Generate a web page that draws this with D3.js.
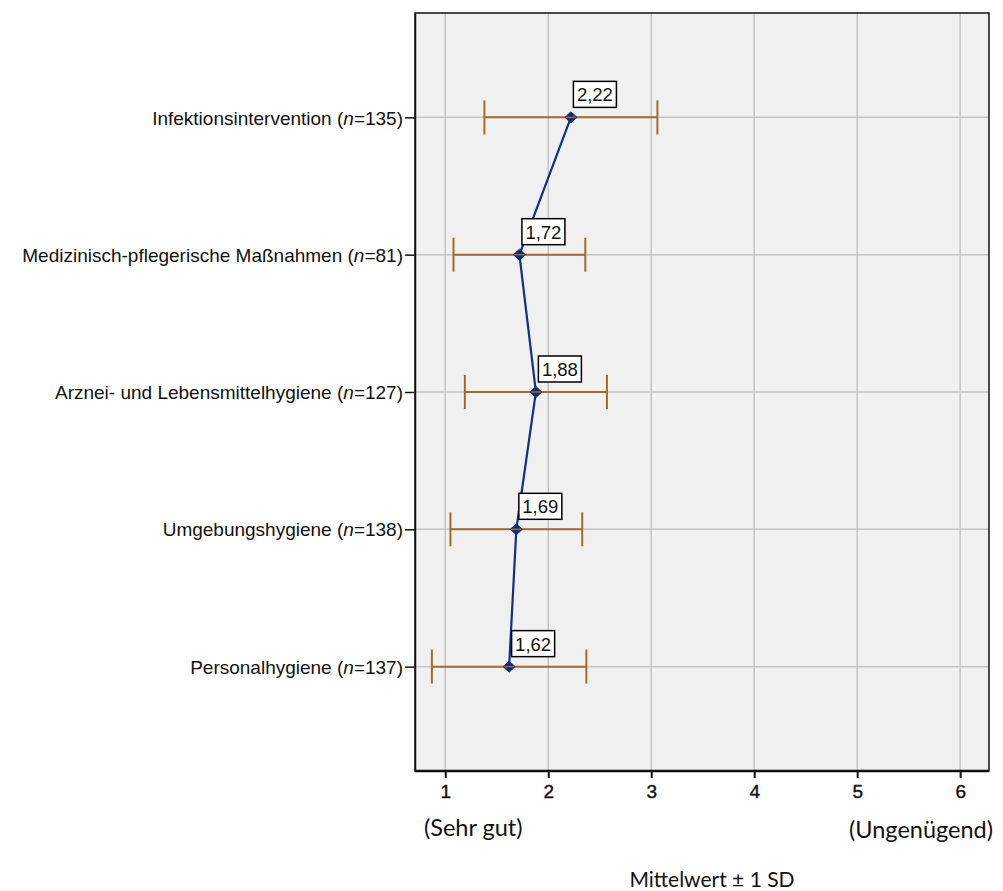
<!DOCTYPE html>
<html><head><meta charset="utf-8">
<script src="https://cdn.jsdelivr.net/npm/d3@7"></script>
<style>body{margin:0;background:#fff}</style>
</head><body>
<svg id="c" width="1003" height="891"></svg>
<script>
const categories = ["Infektionsintervention", "Medizinisch-pflegerische Maßnahmen", "Arznei- und Lebensmittelhygiene", "Umgebungshygiene", "Personalhygiene"];
const nValues = [135, 81, 127, 138, 137];
const means = [2.22, 1.72, 1.88, 1.69, 1.62];
const sds = [0.84, 0.64, 0.69, 0.64, 0.75];
const xTicks = [1, 2, 3, 4, 5, 6];
const anchorLabels = ["(Sehr gut)", "(Ungenügend)"];
const axisTitle = "Mittelwert ± 1 SD";

const svg = d3.select("#c");
const L = 415, R = 989, T = 13, B = 771;
const x = d3.scaleLinear().domain([0.706, 6.28]).range([L, R]);
const y = d3.scalePoint().domain(categories).range([T, B]).padding(0.76);
const data = categories.map((c, i) => ({c, n: nValues[i], m: means[i], sd: sds[i]}));
const fmt = v => d3.format(".2f")(v).replace(".", ",");
const ERR = "#a16b2d";

svg.append("rect").attr("x", L).attr("y", T).attr("width", R - L).attr("height", B - T).attr("fill", "#f0f0f0");
// grid
svg.append("g").selectAll("line").data(xTicks).join("line")
  .attr("x1", d => x(d)).attr("x2", d => x(d)).attr("y1", T).attr("y2", B)
  .attr("stroke", "#c4c4c4").attr("stroke-width", 1.5);
svg.append("g").selectAll("line").data(categories).join("line")
  .attr("x1", L).attr("x2", R).attr("y1", d => y(d)).attr("y2", d => y(d))
  .attr("stroke", "#c4c4c4").attr("stroke-width", 1.5);

// error bars
const eb = svg.append("g").attr("stroke", ERR).attr("stroke-width", 2).attr("fill", "none");
data.forEach(d => {
  const yy = y(d.c);
  eb.append("line").attr("x1", x(d.m - d.sd)).attr("x2", x(d.m + d.sd)).attr("y1", yy).attr("y2", yy);
  [d.m - d.sd, d.m + d.sd].forEach(v => eb.append("line").attr("x1", x(v)).attr("x2", x(v)).attr("y1", yy - 17).attr("y2", yy + 17));
});

// mean line
svg.append("path").datum(data)
  .attr("d", d3.line().x(d => x(d.m)).y(d => y(d.c)))
  .attr("fill", "none").attr("stroke", "#0e2f8c").attr("stroke-width", 2.2);

// markers
const mk = svg.append("g");
data.forEach(d => {
  const cx = x(d.m), cy = y(d.c);
  mk.append("path").attr("d", `M${cx - 6},${cy} L${cx},${cy - 5.5} L${cx + 6},${cy} L${cx},${cy + 5.5} Z`).attr("fill", "#152a73").attr("stroke", "#0e2f8c").attr("stroke-width", 1);
  mk.append("line").attr("x1", cx - 5).attr("x2", cx + 5).attr("y1", cy).attr("y2", cy).attr("stroke", ERR).attr("stroke-width", 1.5);
});

// value labels
const vl = svg.append("g");
data.forEach(d => {
  const cx = x(d.m), cy = y(d.c);
  vl.append("rect").attr("x", cx + 2.5).attr("y", cy - 36).attr("width", 43).attr("height", 26)
    .attr("fill", "#fff").attr("stroke", "#000").attr("stroke-width", 1.5);
  vl.append("text").attr("x", cx + 24).attr("y", cy - 16).attr("text-anchor", "middle")
    .attr("font-family", "Liberation Sans, Arial, sans-serif").attr("font-size", 18.5).attr("fill", "#111").text(fmt(d.m));
});

// border
svg.append("rect").attr("x", L).attr("y", T).attr("width", R - L).attr("height", B - T).attr("fill", "none").attr("stroke", "#111").attr("stroke-width", 1.5);

// y axis
const yAxis = svg.append("g").attr("transform", `translate(${L},0)`)
  .call(d3.axisLeft(y).tickSize(10).tickSizeOuter(0).tickFormat(""));
yAxis.select(".domain").attr("stroke", "#111").attr("stroke-width", 1.5);
yAxis.selectAll(".tick line").attr("stroke", "#111").attr("stroke-width", 1.5);
yAxis.selectAll(".tick").each(function(c, i) {
  const t = d3.select(this).append("text").attr("x", -12).attr("dy", "0.35em").attr("text-anchor", "end")
    .attr("fill", "#111").attr("font-family", "Liberation Sans, Arial, sans-serif").attr("font-size", 19);
  t.append("tspan").text(c + " (");
  t.append("tspan").attr("font-style", "italic").text("n");
  t.append("tspan").text("=" + nValues[i] + ")");
});

// x axis
const xAxis = svg.append("g").attr("transform", `translate(0,${B})`)
  .call(d3.axisBottom(x).tickValues(xTicks).tickSize(7).tickSizeOuter(0).tickPadding(7).tickFormat(d3.format("d")));
xAxis.select(".domain").attr("stroke", "#111").attr("stroke-width", 2.5).attr("d", `M${L},0H${R}`);
xAxis.selectAll(".tick line").attr("stroke", "#111").attr("stroke-width", 2);
xAxis.selectAll(".tick text").attr("fill", "#111").attr("font-family", "Liberation Sans, Arial, sans-serif").attr("font-size", 19).attr("stroke", "#111").attr("stroke-width", 0.4);

svg.append("text").attr("x", 424).attr("y", 836).attr("font-family", "Lato, sans-serif").attr("font-size", 23.5).attr("fill", "#111").text(anchorLabels[0]);
svg.append("text").attr("x", R + 4).attr("y", 838).attr("text-anchor", "end").attr("font-family", "Lato, sans-serif").attr("font-size", 23.5).attr("fill", "#111").text(anchorLabels[1]);
svg.append("text").attr("x", 712).attr("y", 887).attr("text-anchor", "middle").attr("font-family", "Lato, sans-serif").attr("font-size", 21).attr("fill", "#111").text(axisTitle);
</script>
</body></html>
